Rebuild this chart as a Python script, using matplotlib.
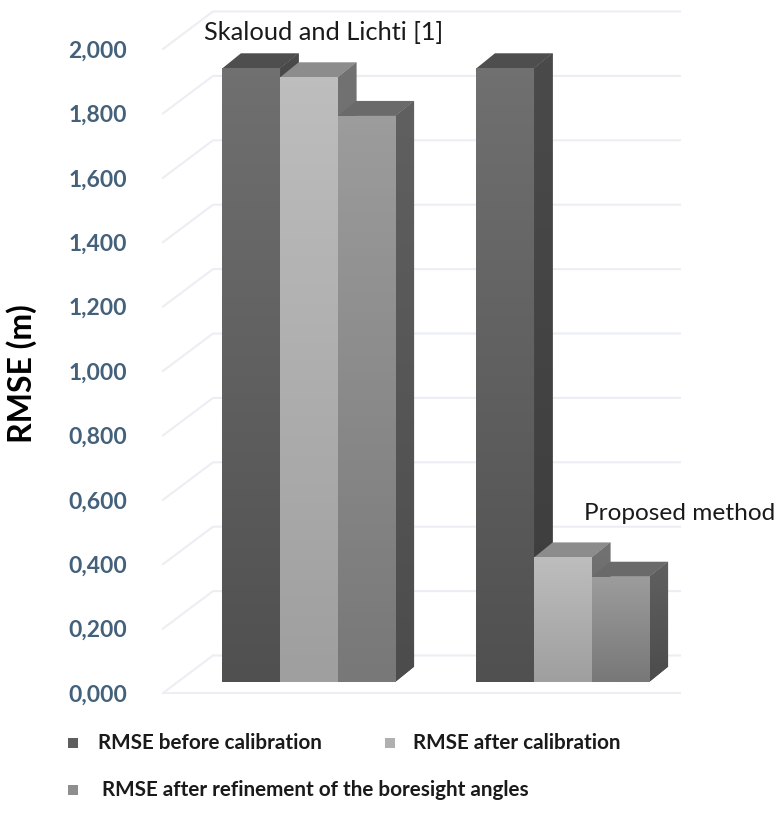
"""Faux 3D grouped bars of RMSE before and after boresight calibration."""

import numpy as np
import matplotlib
matplotlib.use("Agg")
import matplotlib.pyplot as plt
from matplotlib.colors import LinearSegmentedColormap
from matplotlib.patches import Polygon, Rectangle

W, H = 784, 813

groups = ["Skaloud and Lichti [1]", "Proposed method"]
before = [1.905, 1.905]
after = [1.877, 0.386]
refined = [1.757, 0.326]
yticks = [0.0, 0.2, 0.4, 0.6, 0.8, 1.0, 1.2, 1.4, 1.6, 1.8, 2.0]
series_names = ["RMSE before calibration", "RMSE after calibration",
                "RMSE after refinement of the boresight angles"]

# front gradient (top, bottom), top face, side face (top, bottom)
styles = [
    {"front": ("#707070", "#505050"), "top": "#4e4e4e", "side": ("#4a4a4a", "#3c3c3c")},
    {"front": ("#bdbdbd", "#9f9f9f"), "top": "#8c8c8c", "side": ("#727272", "#666666")},
    {"front": ("#9c9c9c", "#787878"), "top": "#6a6a6a", "side": ("#606060", "#4c4c4c")},
]
legend_colors = ["#5e5e5e", "#b0b0b0", "#8e8e8e"]

GROUP_STEP = 254.0   # px per group
UNIT = 322.0         # px per 1.0 on the y axis
BAR_W = 57.7 / GROUP_STEP
BAR_LIFT = 11.3 / UNIT
BAR_DX, BAR_DY = 18.5 / GROUP_STEP, 15.0 / UNIT
WALL_DX, WALL_DY = 50.0 / GROUP_STEP, 37.5 / UNIT
GROUP_X = [0.0, 1.0]

fig = plt.figure(figsize=(W / 100, H / 100), dpi=100)
plt.rcParams["font.family"] = ["Lato", "DejaVu Sans"]


def fx(px):
    return px / W


def fy(py):
    return 1 - py / H


ax = fig.add_axes([fx(163), fy(693), (680 - 163) / W, (693 - 11) / H])
x0, x1 = (163 - 309) / GROUP_STEP, (680 - 309) / GROUP_STEP
ax.set_xlim(x0, x1)
ax.set_ylim(0, (693 - 11) / UNIT)
for s in ax.spines.values():
    s.set_visible(False)

# walls and floor
grid_c = "#eceef3"
for v in yticks:
    ax.plot([x0, x0 + WALL_DX, x1], [v, v + WALL_DY, v + WALL_DY],
            color=grid_c, lw=1.5, zorder=1, clip_on=False, solid_joinstyle="round")
ax.plot([x0, x1], [0, 0], color=grid_c, lw=1.5, zorder=1, clip_on=False)

ax.set_xticks([])
ax.set_yticks(yticks)
ax.set_yticklabels([f"{v:.3f}".replace(".", ",") for v in yticks],
                   fontsize=16.5, fontweight="bold", color="#44617b")
ax.tick_params(axis="y", length=0, pad=26)


def gradient(rect_like, c_top, c_bot, z, extent):
    cmap = LinearSegmentedColormap.from_list("g", [c_bot, c_top])
    im = ax.imshow(np.linspace(1, 0, 64).reshape(-1, 1), cmap=cmap, aspect="auto",
                   extent=extent, zorder=z, vmin=0, vmax=1)
    im.set_clip_path(rect_like)


z = 3
for g, gx in enumerate(GROUP_X):
    values = [before[g], after[g], refined[g]]
    for i, val in enumerate(values):
        st = styles[i]
        left = gx + (i - 1.5) * BAR_W
        right = left + BAR_W
        base = BAR_LIFT
        top = base + val
        side = Polygon([(right, base), (right + BAR_DX, base + BAR_DY),
                        (right + BAR_DX, top + BAR_DY), (right, top)],
                       facecolor=st["side"][1], edgecolor="none", zorder=z)
        ax.add_patch(side)
        gradient(side, st["side"][0], st["side"][1], z,
                 (right, right + BAR_DX, base, top + BAR_DY))
        ax.add_patch(Polygon([(left, top), (left + BAR_DX, top + BAR_DY),
                              (right + BAR_DX, top + BAR_DY), (right, top)],
                             facecolor=st["top"], edgecolor="none", zorder=z + 1))
        bar = ax.bar(left, val, width=BAR_W, bottom=base, align="edge",
                     color=st["front"][1], linewidth=0, zorder=z + 1)[0]
        gradient(bar, st["front"][0], st["front"][1], z + 1, (left, right, base, top))
        z += 2

ax.set_xlim(x0, x1)
ax.set_ylim(0, (693 - 11) / UNIT)

fig.text(fx(22), fy(374), "RMSE (m)", rotation=90, ha="center", va="center",
         fontsize=23, fontweight="bold", color="black")
fig.text(fx(204), fy(32), groups[0], ha="left", va="center", fontsize=18.3, color="#1a1a1a")
fig.text(fx(584), fy(513), groups[1], ha="left", va="center", fontsize=17.6, color="#1a1a1a")

# legend laid out by hand, the third row is slightly offset in the source
legend_pos = [(73, 743, 98), (390, 743, 413), (73, 790, 102)]
for name, col, (mx, my, tx) in zip(series_names, legend_colors, legend_pos):
    fig.patches.append(Rectangle((fx(mx - 5), fy(my + 5)), 10 / W, 10 / H, facecolor=col,
                                 edgecolor="none", transform=fig.transFigure))
    fig.text(fx(tx), fy(my), name, ha="left", va="center", fontsize=14.9,
             fontweight="bold", color="#1a1a1a")

fig.savefig("out.png", dpi=100, facecolor="white")
